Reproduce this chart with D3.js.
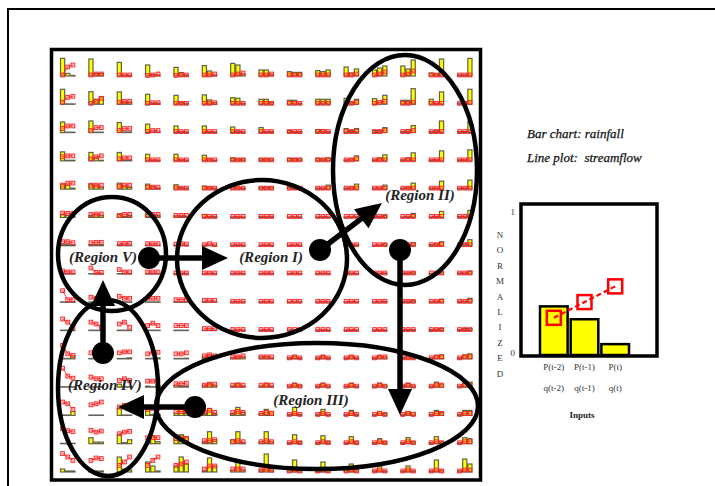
<!DOCTYPE html>
<html>
<head>
<meta charset="utf-8">
<script src="https://cdn.jsdelivr.net/npm/d3@7"></script>
<style>
  body { margin: 0; background: #fff; }
  svg { display: block; }
</style>
</head>
<body>
<svg id="chart" width="715" height="486"></svg>
<script>
// Self-organizing map, 15 x 15 nodes. Each node holds normalized rainfall
// P(t-2), P(t-1), P(t) (bars) and streamflow q(t-2), q(t-1), q(t) (line).
const rainfall = [
  [[.88,.13,.03],[.85,.13,.13],[.68,.03,.03],[.55,.08,.05],[.43,.17,.05],[.52,.25,.05],[.63,.55,.1],[.3,.3,.1],[.22,.18,.18],[.27,.22,.3],[.45,.15,.35],[.3,.4,.5],[.5,.35,.8],[.15,.1,.85],[.05,.05,.88]],
  [[.75,.02,.02],[.63,.25,.37],[.62,.1,.1],[.5,.05,.05],[.45,.1,.05],[.47,.22,.08],[.33,.3,.05],[.25,.25,.1],[.2,.2,.05],[.25,.25,.25],[.3,.1,.25],[.28,.1,.45],[.2,.2,.78],[.25,.05,.62],[.05,.05,.75]],
  [[.53,.02,.02],[.58,.02,.02],[.5,.03,.03],[.42,.03,.03],[.33,.05,.03],[.33,.05,.03],[.28,.08,.03],[.25,.05,.05],[.1,.05,.05],[.15,.15,.05],[.2,.1,.2],[.1,.1,.25],[.05,.15,.35],[.05,.1,.58],[.05,.05,.55]],
  [[.45,.03,.03],[.42,.17,.03],[.42,.03,.03],[.33,.03,.03],[.33,.05,.03],[.28,.1,.03],[.15,.1,.1],[.1,.1,.1],[.12,.12,.1],[.12,.1,.15],[.05,.1,.25],[.05,.15,.3],[.05,.15,.4],[.05,.05,.5],[.05,.05,.55]],
  [[.25,.2,.05],[.25,.2,.1],[.3,.15,.1],[.25,.15,.05],[.22,.08,.05],[.15,.1,.05],[.1,.1,.05],[.1,.1,.1],[.08,.08,.1],[.05,.05,.2],[.05,.1,.25],[.05,.05,.2],[.05,.1,.3],[.05,.05,.4],[.05,.05,.45]],
  [[.15,.1,.05],[.1,.15,.1],[.15,.05,.1],[.15,.1,.1],[.08,.05,.05],[.15,.05,.05],[.02,.02,.02],[.05,.02,.05],[.02,.02,.02],[.02,.02,.02],[.02,.02,.05],[.02,.05,.1],[.02,.05,.2],[.02,.05,.3],[.05,.05,.35]],
  [[.05,.05,.05],[.05,.05,.05],[.05,.03,.03],[.03,.03,.03],[.03,.03,.03],[.02,.02,.02],[.02,.02,.02],[.02,.02,.02],[.02,.02,.02],[.02,.02,.02],[.02,.02,.05],[.02,.02,.1],[.02,.05,.15],[.05,.1,.2],[.05,.1,.3]],
  [[.02,.02,.02],[.02,.02,.02],[.02,.02,.02],[.02,.02,.02],[.02,.02,.02],[.02,.02,.02],[.02,.02,.02],[.02,.02,.02],[.02,.02,.02],[.02,.02,.02],[.02,.02,.02],[.02,.02,.05],[.02,.05,.1],[.02,.05,.1],[.05,.05,.15]],
  [[.02,.02,.02],[.02,.02,.02],[.02,.02,.02],[.02,.02,.02],[.02,.02,.02],[.02,.02,.02],[.02,.02,.02],[.02,.02,.02],[.02,.02,.02],[.02,.02,.02],[.02,.02,.02],[.02,.02,.05],[.02,.05,.08],[.02,.05,.15],[.05,.05,.2]],
  [[.02,.02,.02],[.02,.02,.02],[.02,.02,.02],[.02,.02,.02],[.02,.02,.02],[.02,.02,.02],[.02,.02,.02],[.02,.02,.02],[.02,.02,.02],[.02,.02,.02],[.02,.02,.02],[.02,.02,.02],[.02,.05,.05],[.05,.08,.1],[.05,.1,.1]],
  [[.02,.02,.15],[.02,.02,.02],[.02,.02,.05],[.02,.02,.05],[.02,.02,.03],[.1,.2,.1],[.05,.1,.1],[.1,.1,.05],[.05,.15,.05],[.05,.15,.05],[.05,.15,.05],[.05,.15,.1],[.05,.12,.05],[.05,.15,.2],[.05,.2,.25]],
  [[.02,.02,.02],[.02,.02,.02],[.15,.02,.02],[.05,.02,.1],[.1,.05,.05],[.1,.2,.1],[.05,.2,.05],[.05,.2,.05],[.05,.2,.1],[.05,.2,.05],[.05,.2,.05],[.05,.2,.1],[.05,.2,.05],[.05,.25,.15],[.05,.2,.25]],
  [[.02,.02,.2],[.02,.02,.02],[.35,.02,.02],[.3,.05,.05],[.1,.3,.1],[.1,.35,.1],[.1,.4,.15],[.1,.3,.2],[.05,.4,.05],[.05,.3,.05],[.05,.25,.05],[.05,.2,.1],[.05,.2,.15],[.05,.25,.15],[.05,.25,.25]],
  [[.02,.02,.02],[.3,.08,.08],[.45,.05,.2],[.1,.4,.1],[.3,.45,.35],[.1,.6,.2],[.2,.6,.05],[.1,.6,.1],[.05,.45,.1],[.05,.4,.1],[.05,.35,.1],[.05,.25,.1],[.05,.3,.1],[.05,.35,.1],[.05,.3,.25]],
  [[.15,.05,.05],[.1,.05,.05],[.75,.15,.1],[.5,.3,.05],[.3,.75,.4],[.05,.7,.3],[.1,.6,.1],[.1,.9,.1],[.1,.6,.1],[.05,.5,.1],[.25,.4,.1],[.05,.3,.05],[.05,.3,.05],[.05,.6,.1],[.05,.65,.4]]
];

const streamflow = [
  [[.05,.45,.55],[.05,.1,.1],[.05,.05,.05],[.03,.05,.1],[.03,.05,.05],[.05,.05,.1],[.05,.1,.15],[.05,.05,.1],[.05,.05,.05],[.05,.05,.05],[.05,.05,.1],[.05,.1,.2],[.05,.1,.25],[.05,.05,.05],[.05,.05,.05]],
  [[.1,.35,.4],[.05,.15,.3],[.1,.15,.15],[.05,.08,.08],[.05,.05,.05],[.05,.05,.08],[.05,.05,.05],[.05,.05,.05],[.05,.05,.05],[.05,.05,.05],[.05,.05,.1],[.05,.1,.15],[.05,.05,.1],[.05,.05,.05],[.05,.05,.1]],
  [[.2,.33,.33],[.1,.25,.25],[.1,.2,.2],[.05,.1,.1],[.05,.05,.05],[.05,.05,.05],[.05,.05,.05],[.05,.05,.05],[.05,.05,.05],[.05,.05,.05],[.05,.05,.05],[.05,.05,.1],[.05,.05,.1],[.05,.05,.05],[.05,.05,.05]],
  [[.2,.25,.25],[.1,.2,.25],[.1,.15,.15],[.05,.05,.05],[.05,.05,.05],[.05,.05,.05],[.05,.05,.05],[.05,.05,.05],[.05,.05,.05],[.05,.05,.05],[.05,.05,.1],[.05,.05,.05],[.05,.05,.05],[.05,.05,.05],[.05,.05,.05]],
  [[.2,.3,.3],[.2,.2,.2],[.15,.2,.2],[.1,.1,.1],[.05,.05,.05],[.05,.05,.05],[.05,.05,.05],[.05,.05,.05],[.05,.05,.05],[.05,.05,.05],[.05,.05,.05],[.05,.05,.05],[.05,.05,.05],[.05,.05,.05],[.05,.05,.05]],
  [[.22,.2,.2],[.15,.17,.17],[.1,.15,.15],[.15,.15,.15],[.1,.1,.1],[.05,.05,.05],[.05,.05,.05],[.05,.05,.05],[.05,.05,.05],[.05,.05,.05],[.05,.05,.05],[.05,.05,.05],[.05,.05,.05],[.05,.05,.05],[.05,.05,.05]],
  [[.2,.2,.15],[.15,.17,.17],[.1,.12,.12],[.1,.1,.1],[.08,.1,.08],[.05,.1,.05],[.05,.05,.05],[.05,.05,.05],[.05,.05,.05],[.05,.05,.05],[.05,.05,.05],[.05,.05,.05],[.05,.05,.05],[.05,.05,.05],[.05,.05,.05]],
  [[.15,.1,.1],[.3,.08,.08],[.22,.1,.1],[.1,.1,.1],[.05,.05,.05],[.05,.05,.05],[.05,.05,.05],[.05,.05,.05],[.05,.05,.05],[.05,.05,.05],[.05,.05,.05],[.05,.05,.05],[.05,.05,.05],[.05,.05,.05],[.05,.05,.05]],
  [[.58,.13,.13],[.25,.2,.2],[.3,.2,.2],[.2,.2,.2],[.13,.13,.13],[.1,.1,.1],[.05,.05,.05],[.05,.05,.05],[.05,.05,.05],[.05,.05,.05],[.05,.05,.05],[.05,.05,.05],[.05,.05,.05],[.05,.05,.05],[.05,.05,.05]],
  [[.58,.42,.17],[.42,.33,.17],[.33,.42,.17],[.25,.37,.25],[.25,.25,.25],[.1,.1,.1],[.05,.05,.05],[.05,.05,.05],[.05,.05,.05],[.05,.05,.05],[.05,.05,.05],[.05,.05,.05],[.05,.05,.05],[.05,.05,.05],[.05,.05,.05]],
  [[.67,.25,.17],[.3,.35,.35],[.3,.35,.35],[.25,.33,.33],[.25,.25,.3],[.15,.2,.15],[.1,.1,.15],[.1,.1,.1],[.05,.1,.05],[.05,.1,.05],[.05,.1,.05],[.05,.1,.1],[.05,.05,.05],[.05,.1,.1],[.05,.1,.1]],
  [[.95,.55,.45],[.5,.42,.42],[.33,.42,.33],[.3,.3,.3],[.17,.17,.2],[.1,.15,.15],[.1,.1,.1],[.1,.1,.1],[.05,.1,.05],[.05,.1,.05],[.05,.1,.05],[.05,.1,.05],[.05,.1,.05],[.05,.1,.1],[.05,.1,.1]],
  [[.67,.58,.3],[.53,.58,.67],[.42,.5,.5],[.3,.35,.35],[.2,.2,.2],[.15,.25,.15],[.15,.2,.15],[.1,.15,.1],[.05,.1,.05],[.05,.1,.05],[.05,.1,.05],[.05,.1,.05],[.05,.1,.05],[.05,.1,.1],[.05,.1,.1]],
  [[.75,.65,.6],[.67,.58,.63],[.5,.58,.62],[.3,.3,.3],[.25,.3,.25],[.15,.15,.2],[.1,.15,.1],[.1,.15,.1],[.05,.1,.05],[.05,.1,.05],[.05,.1,.05],[.05,.1,.05],[.05,.1,.05],[.05,.1,.05],[.05,.1,.1]],
  [[.92,.75,.58],[.58,.7,.67],[.33,.5,.75],[.33,.58,.75],[.33,.4,.5],[.15,.3,.3],[.15,.15,.15],[.1,.15,.1],[.05,.1,.05],[.05,.1,.05],[.05,.1,.05],[.05,.1,.05],[.05,.1,.05],[.05,.1,.05],[.05,.1,.1]]
];

// Example node shown in the key
const keyRainfall = [0.34, 0.25, 0.076];
const keyStreamflow = [0.26, 0.37, 0.48];
const keyRainLabels = ["P(t-2)", "P(t-1)", "P(t)"];
const keyFlowLabels = ["q(t-2)", "q(t-1)", "q(t)"];
const keyAxisTicks = [0, 1];
const keyAxisWord = "NORMALIZED";
const keyCaptions = ["Bar chart: rainfall", "Line plot:  streamflow"];

const svg = d3.select("#chart");
const SERIF = "'Liberation Serif','Times New Roman',serif";

// outer page frame
svg.append("path").attr("d", "M8,486 V9 H715")
  .attr("fill", "none").attr("stroke", "#000").attr("stroke-width", 2);

// ---------- map grid ----------
const n = rainfall.length;
const colX = d3.scaleLinear().domain([0, n - 1]).range([60, 457]);   // glyph left edge
const rowY = d3.scaleLinear().domain([0, n - 1]).range([76, 472]);   // glyph baseline
const barX = d3.scaleBand().domain([0, 1, 2]).range([0, 15.5]);
const glyphH = d3.scaleLinear().domain([0, 1]).range([0, 20]);

const cells = [];
rainfall.forEach((row, r) => row.forEach((rain, c) =>
  cells.push({ r, c, rain, flow: streamflow[r][c] })));

const glyphs = svg.append("g").selectAll("g").data(cells).join("g")
  .attr("transform", d => `translate(${colX(d.c)},${rowY(d.r)})`);

glyphs.selectAll("rect.bar").data(d => d.rain).join("rect")
  .attr("class", "bar")
  .attr("x", (v, i) => barX(i) + 0.5)
  .attr("y", v => -glyphH(v))
  .attr("width", barX.bandwidth() - 1)
  .attr("height", v => glyphH(v))
  .attr("fill", "#ffff00")
  .attr("stroke", "#3a3a3a")
  .attr("stroke-opacity", 0.8)
  .attr("stroke-width", 1.2);

const glyphLine = d3.line()
  .x((v, i) => barX(i) + barX.bandwidth() / 2)
  .y(v => -glyphH(v));

glyphs.append("path")
  .attr("d", d => glyphLine(d.flow))
  .attr("fill", "none").attr("stroke", "#ff2020").attr("stroke-width", 0.9);

glyphs.selectAll("rect.pt").data(d => d.flow).join("rect")
  .attr("class", "pt")
  .attr("x", (v, i) => barX(i) + barX.bandwidth() / 2 - 1.9)
  .attr("y", v => -glyphH(v) - 1.9)
  .attr("width", 3.8).attr("height", 3.8)
  .attr("fill", "rgba(255,80,80,0.3)")
  .attr("stroke", "#ff2020").attr("stroke-width", 0.9);

// map frame
svg.append("rect").attr("x", 51.5).attr("y", 49.5).attr("width", 429).attr("height", 430.5)
  .attr("fill", "none").attr("stroke", "#000").attr("stroke-width", 3.5);

// ---------- regions ----------
const regions = [
  { name: "(Region I)",   cx: 262, cy: 259, rx: 85,  ry: 79,  lx: 271, ly: 262 },
  { name: "(Region II)",  cx: 405, cy: 170, rx: 72,  ry: 115, lx: 420, ly: 200 },
  { name: "(Region III)", cx: 317, cy: 406, rx: 161, ry: 63,  lx: 311, ly: 405 },
  { name: "(Region IV)",  cx: 108, cy: 388, rx: 50,  ry: 88,  lx: 105, ly: 390 },
  { name: "(Region V)",   cx: 112, cy: 254, rx: 54,  ry: 57,  lx: 103, ly: 262 }
];

svg.append("g").selectAll("ellipse").data(regions).join("ellipse")
  .attr("cx", d => d.cx).attr("cy", d => d.cy)
  .attr("rx", d => d.rx).attr("ry", d => d.ry)
  .attr("fill", "none").attr("stroke", "#000").attr("stroke-width", 4.5);

// transitions between regions: dot at the tail, triangle at the head
const moves = [
  { x1: 149, y1: 258, x2: 228, y2: 258 },   // V -> I
  { x1: 320, y1: 250, x2: 382, y2: 203 },   // I -> II
  { x1: 400, y1: 250, x2: 400, y2: 415 },   // II -> III
  { x1: 195, y1: 407, x2: 118, y2: 407 },   // III -> IV
  { x1: 103, y1: 353, x2: 103, y2: 280 }    // IV -> V
];
const arrows = svg.append("g").selectAll("g").data(moves).join("g");
arrows.append("circle").attr("cx", d => d.x1).attr("cy", d => d.y1).attr("r", 11).attr("fill", "#000");
arrows.each(function (d) {
  const g = d3.select(this);
  const dx = d.x2 - d.x1, dy = d.y2 - d.y1, L = Math.hypot(dx, dy);
  const ux = dx / L, uy = dy / L, px = -uy, py = ux;
  const headLen = 26, headW = 12;
  const bx = d.x2 - ux * headLen, by = d.y2 - uy * headLen;
  g.append("line").attr("x1", d.x1).attr("y1", d.y1).attr("x2", bx + ux).attr("y2", by + uy)
    .attr("stroke", "#000").attr("stroke-width", 5.5);
  g.append("path")
    .attr("d", `M${d.x2},${d.y2} L${bx + px * headW},${by + py * headW} L${bx - px * headW},${by - py * headW} Z`)
    .attr("fill", "#000");
});

svg.append("g").selectAll("text").data(regions).join("text")
  .attr("x", d => d.lx).attr("y", d => d.ly)
  .attr("text-anchor", "middle")
  .attr("font-family", SERIF).attr("font-size", 15)
  .attr("font-weight", "bold").attr("font-style", "italic")
  .attr("fill", "#222")
  .text(d => d.name);

// ---------- key ----------
svg.append("g").selectAll("text").data(keyCaptions).join("text")
  .attr("x", 527).attr("y", (d, i) => 138 + i * 24)
  .attr("font-family", SERIF).attr("font-size", 13).attr("font-style", "italic")
  .attr("fill", "#111").attr("stroke", "#111").attr("stroke-width", 0.25)
  .style("white-space", "pre")
  .text(d => d);

const kx = d3.scaleBand().domain(keyRainLabels).range([540, 629]).paddingInner(0.1);
const ky = d3.scaleLinear().domain([0, 1]).range([355, 212]);
const key = svg.append("g");

key.selectAll("rect.kbar").data(keyRainfall).join("rect")
  .attr("class", "kbar")
  .attr("x", (v, i) => kx(keyRainLabels[i]))
  .attr("y", v => ky(v))
  .attr("width", kx.bandwidth())
  .attr("height", v => ky(0) - ky(v))
  .attr("fill", "#ffff00").attr("stroke", "#000").attr("stroke-width", 2.5);

const keyLine = d3.line()
  .x((v, i) => kx(keyRainLabels[i]) + kx.bandwidth() / 2)
  .y(v => ky(v));
key.append("path").attr("d", keyLine(keyStreamflow))
  .attr("fill", "none").attr("stroke", "#ff0000").attr("stroke-width", 2.2)
  .attr("stroke-dasharray", "5,3");
key.selectAll("rect.kpt").data(keyStreamflow).join("rect")
  .attr("class", "kpt")
  .attr("x", (v, i) => kx(keyRainLabels[i]) + kx.bandwidth() / 2 - 7)
  .attr("y", v => ky(v) - 7)
  .attr("width", 14).attr("height", 14)
  .attr("fill", "none").attr("stroke", "#ff0000").attr("stroke-width", 2.5);

key.append("rect").attr("x", 521).attr("y", 204).attr("width", 136).attr("height", 152)
  .attr("fill", "none").attr("stroke", "#000").attr("stroke-width", 3.5);

key.selectAll("text.tick").data(keyAxisTicks).join("text")
  .attr("class", "tick")
  .attr("x", 515).attr("y", v => ky(v) + (v === 0 ? 1 : 3))
  .attr("text-anchor", "end")
  .attr("font-family", SERIF).attr("font-size", 9).attr("fill", "#333")
  .text(v => v);

key.selectAll("text.yl").data(keyAxisWord.split("")).join("text")
  .attr("class", "yl")
  .attr("x", 500).attr("y", (ch, i) => 238 + i * 15.4)
  .attr("text-anchor", "middle")
  .attr("font-family", SERIF).attr("font-size", 9).attr("fill", "#333")
  .text(ch => ch);

key.selectAll("text.xp").data(keyRainLabels).join("text")
  .attr("class", "xp")
  .attr("x", d => kx(d) + kx.bandwidth() / 2).attr("y", 370)
  .attr("text-anchor", "middle")
  .attr("font-family", SERIF).attr("font-size", 9).attr("fill", "#333")
  .text(d => d);

key.selectAll("text.xq").data(keyFlowLabels).join("text")
  .attr("class", "xq")
  .attr("x", (d, i) => kx(keyRainLabels[i]) + kx.bandwidth() / 2).attr("y", 391)
  .attr("text-anchor", "middle")
  .attr("font-family", SERIF).attr("font-size", 9).attr("fill", "#333")
  .text(d => d);

key.append("text").attr("x", 582).attr("y", 418)
  .attr("text-anchor", "middle")
  .attr("font-family", SERIF).attr("font-size", 9).attr("font-weight", "bold").attr("fill", "#222")
  .text("Inputs");
</script>
</body>
</html>
